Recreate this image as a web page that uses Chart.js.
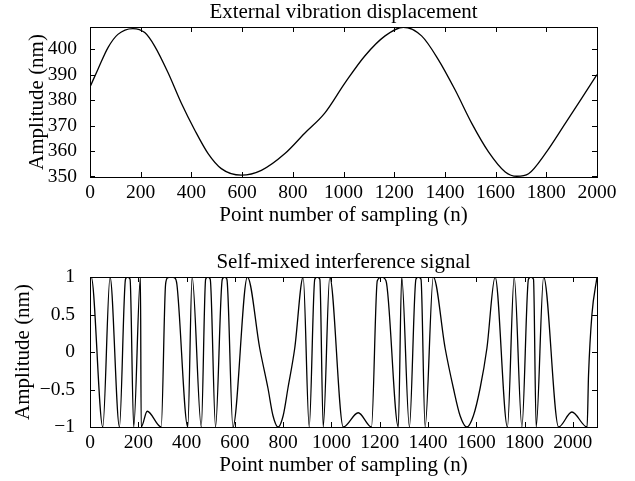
<!DOCTYPE html>
<html>
<head>
<meta charset="utf-8">
<script src="https://cdn.jsdelivr.net/npm/chart.js@4.4.1/dist/chart.umd.min.js"></script>
<style>
  html, body { margin: 0; padding: 0; background: #fff; overflow: hidden; }
  #wrap { position: relative; width: 635px; height: 481px; }
  canvas { position: absolute; left: 0; }
  #top { top: 0; }
  #bottom { top: 250px; }
</style>
</head>
<body>
<div id="wrap">
  <canvas id="top" width="635" height="240"></canvas>
  <canvas id="bottom" width="635" height="240"></canvas>
</div>
<script>
// External vibration displacement
const dispX = [0, 31, 71, 110, 169, 216, 255, 308, 360, 413, 466, 518, 597, 676, 769, 847, 926,
               1006, 1084, 1164, 1236, 1308, 1374, 1440, 1506, 1572, 1638, 1684, 1730, 1796, 1875, 1940, 2000];
const dispY = [385.2, 392.1, 400.7, 405.9, 408.2, 406.6, 401.3, 390.8, 378.9, 368.3, 359.0, 353.1, 350.5,
               352.4, 359.0, 367.0, 374.9, 386.8, 397.4, 405.3, 408.7, 405.3, 396.0, 384.1, 370.9, 359.7,
               351.8, 350.1, 351.1, 359.0, 370.9, 380.8, 390.1];

// Self-mixed interference signal
const smiX = [0, 5, 53, 83, 122, 147, 155, 166, 181, 209, 212, 237, 295, 313, 322, 336, 350, 360, 405, 423,
              461, 479, 488, 498, 520, 548, 558, 567, 592, 652, 703, 737, 758, 779, 800, 820, 848, 883,
              908, 931, 941, 952, 966, 993, 1049, 1111, 1166, 1190, 1208, 1226, 1277, 1291, 1323, 1350,
              1360, 1371, 1388, 1422, 1471, 1505, 1533, 1561, 1588, 1616, 1644, 1678, 1729, 1757, 1789,
              1816, 1826, 1837, 1848, 1879, 1941, 1996, 2059, 2065, 2079, 2100];
const smiY = [0.98, 1, -1, 1, -1, 0.97, 1, 0.97, -1, 1, -1, -0.79, -1, 0.9, 0.99, 1, 0.99, 0.9, -1, 1,
              -1, 0.97, 1, 0.97, -1, 0.97, 1, 0.97, -1, 1, 0.05, -0.48, -0.85, -1, -0.85, -0.48, 0.05, 1,
              -1, 0.97, 1, 0.97, -1, 1, -1, -0.81, -1, 0.95, 1, 0.95, -1, 1, -1, 0.97,
              1, 0.97, -1, 1, 0.05, -0.48, -0.85, -1, -0.85, -0.48, 0.05, 1, -1, 1, -1,
              0.97, 1, 0.97, -1, 1, -1, -0.8, -1, -0.3, 0.5, 1];

const topTitle = 'External vibration displacement';
const bottomTitle = 'Self-mixed interference signal';
const xTitle = 'Point number of sampling (n)';
const yTitle = 'Amplitude (nm)';

const FONT = 'Liberation Serif';
const TICK_SIZE = 19.5;
const LABEL_SIZE = 21;

// box around the plot area with inward ticks on all four sides, MATLAB style
const boxTicks = {
  id: 'boxTicks',
  afterDatasetsDraw(chart) {
    const { ctx, chartArea: a, scales: { x, y } } = chart;
    const len = 5;
    ctx.save();
    ctx.strokeStyle = '#000';
    ctx.lineWidth = 1;
    ctx.beginPath();
    x.ticks.forEach(t => {
      const px = Math.round(x.getPixelForValue(t.value)) + 0.5;
      ctx.moveTo(px, a.bottom); ctx.lineTo(px, a.bottom - len);
      ctx.moveTo(px, a.top); ctx.lineTo(px, a.top + len);
    });
    y.ticks.forEach(t => {
      const py = Math.round(y.getPixelForValue(t.value)) + 0.5;
      ctx.moveTo(a.left, py); ctx.lineTo(a.left + len, py);
      ctx.moveTo(a.right, py); ctx.lineTo(a.right - len, py);
    });
    ctx.stroke();
    ctx.strokeRect(Math.round(a.left) + 0.5, Math.round(a.top) + 0.5,
                   Math.round(a.width), Math.round(a.height));
    ctx.restore();
  }
};

function makeChart(id, xs, ys, opts) {
  const points = xs.map((v, i) => ({ x: v, y: ys[i] }));
  return new Chart(document.getElementById(id), {
    type: 'line',
    data: {
      datasets: [{
        data: points,
        borderColor: '#000',
        borderWidth: 1.3,
        pointRadius: 0,
        cubicInterpolationMode: 'monotone',
        fill: false,
      }],
    },
    options: {
      responsive: false,
      animation: false,
      events: [],
      layout: { padding: { left: 0, right: 38, top: 0, bottom: 0 } },
      plugins: {
        legend: { display: false },
        tooltip: { enabled: false },
        title: {
          display: true,
          text: opts.title,
          color: '#000',
          fullSize: false,
          font: { family: FONT, size: LABEL_SIZE, weight: 'normal', lineHeight: 1.2 },
          padding: { top: 0, bottom: 1.8 },
        },
      },
      scales: {
        x: {
          type: 'linear',
          min: 0,
          max: opts.xMax,
          grid: { display: false, drawTicks: false },
          border: { display: false },
          ticks: {
            stepSize: 200,
            includeBounds: false,
            maxRotation: 0,
            autoSkip: false,
            padding: 4,
            color: '#000',
            font: { family: FONT, size: TICK_SIZE },
            callback: v => String(v),
          },
          title: {
            display: true,
            text: xTitle,
            color: '#000',
            font: { family: FONT, size: LABEL_SIZE, lineHeight: 1.2 },
            padding: { top: 0, bottom: 12 },
          },
          afterFit: s => { s.height = 63; },
        },
        y: {
          min: opts.yMin,
          max: opts.yMax,
          grid: { display: false, drawTicks: false },
          border: { display: false },
          ticks: {
            stepSize: opts.yStep,
            includeBounds: false,
            padding: opts.yTickPad,
            color: '#000',
            font: { family: FONT, size: TICK_SIZE },
            callback: v => String(v).replace('-', '\u2212'),
          },
          title: {
            display: true,
            text: yTitle,
            color: '#000',
            font: { family: FONT, size: LABEL_SIZE, lineHeight: 1.2 },
            padding: { top: opts.yTitlePad, bottom: 0 },
          },
          afterFit: s => { s.width = 90; },
        },
      },
    },
    plugins: [boxTicks],
  });
}

makeChart('top', dispX, dispY, {
  title: topTitle, xMax: 2000, yMin: 349.8, yMax: 408.8, yStep: 10, yTitlePad: 25, yTickPad: 13,
});
makeChart('bottom', smiX, smiY, {
  title: bottomTitle, xMax: 2100, yMin: -1, yMax: 1, yStep: 0.5, yTitlePad: 11, yTickPad: 15,
});
</script>
</body>
</html>
